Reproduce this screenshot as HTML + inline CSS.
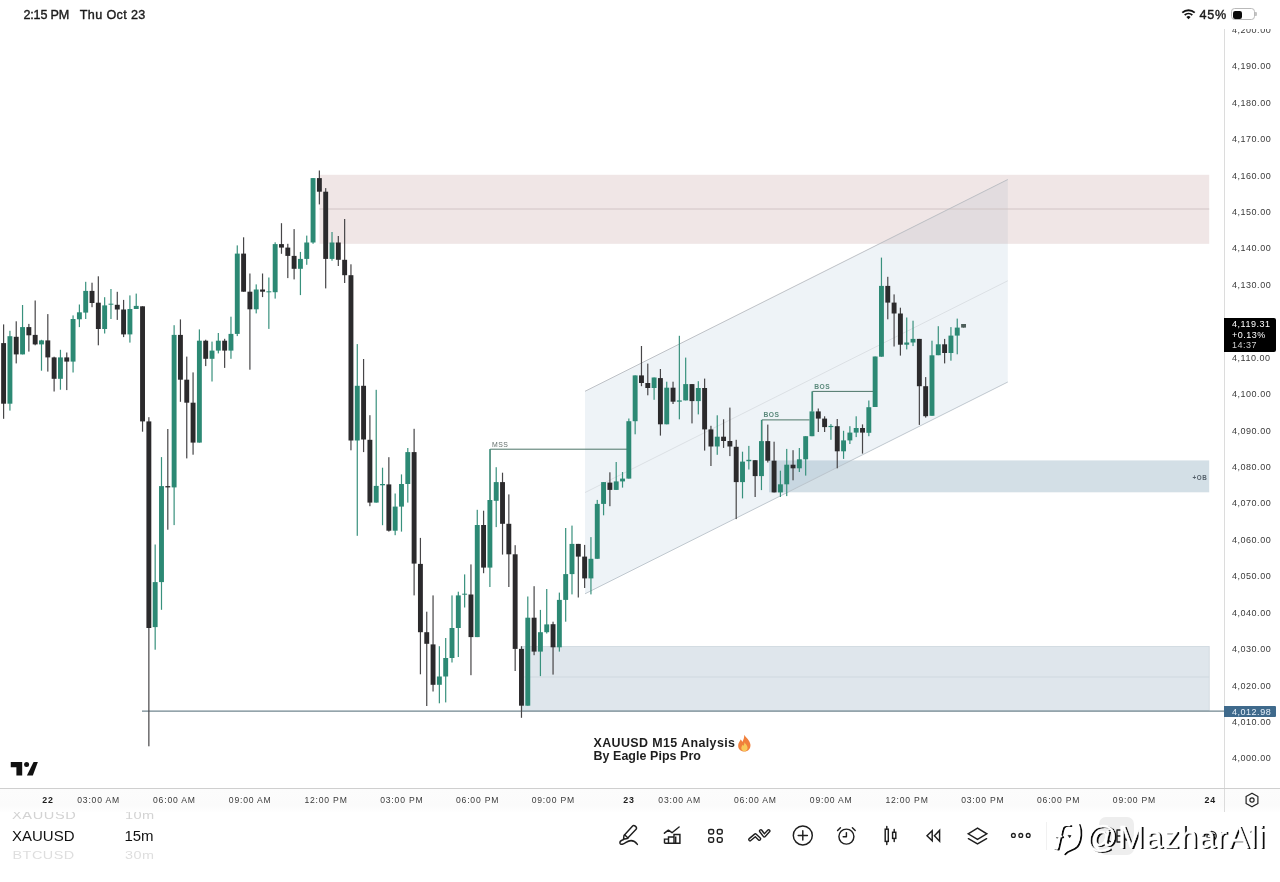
<!DOCTYPE html>
<html lang="en"><head><meta charset="utf-8"><title>XAUUSD M15 Analysis</title>
<style>
html,body{margin:0;padding:0;background:#fff;}
body{width:1280px;height:882px;position:relative;overflow:hidden;font-family:"Liberation Sans",sans-serif;color:#1a1a1a;}
#chart{position:absolute;left:0;top:0;width:1280px;height:882px;}
.abs{position:absolute;}
.pl{position:absolute;left:1232px;width:44px;height:12px;line-height:12px;font-size:9px;letter-spacing:0.52px;color:#3a3a3a;white-space:nowrap;}
.tl{position:absolute;top:794px;width:60px;height:12px;line-height:12px;text-align:center;font-size:8.6px;letter-spacing:0.8px;color:#3a3a3a;white-space:nowrap;}
.tl.b{font-weight:bold;color:#1c1c1c;letter-spacing:0.9px;font-size:8.8px;}
#status{position:absolute;left:0;top:0;width:1280px;height:28.5px;background:#fff;}
#status .t{position:absolute;top:7px;height:16px;line-height:16px;font-size:12.6px;color:#1a1a1a;-webkit-text-stroke:0.38px #1a1a1a;white-space:nowrap;}
#bottom{position:absolute;left:0;top:812px;width:1280px;height:70px;background:#fff;}
.pick{position:absolute;white-space:nowrap;}
.wm{position:absolute;left:1085.8px;top:818.5px;font-size:31px;line-height:38px;color:#fff;-webkit-text-stroke:0.5px #fff;text-shadow:2px 1px 0 rgba(0,0,0,0.95);white-space:nowrap;letter-spacing:1.05px;}
</style></head><body>
<svg id="chart" width="1280" height="882" viewBox="0 0 1280 882">
<rect x="522" y="646.5" width="687.2" height="64" fill="#dfe6ec" stroke="#cdd6de" stroke-width="0.8"/>
<line x1="522" y1="677" x2="1209.2" y2="677" stroke="#cfd8df" stroke-width="1"/>
<polygon points="585,391.3 1007.8,179.5 1007.8,382.0 585,593.8" fill="rgba(112,158,186,0.12)"/>
<rect x="319.5" y="174.8" width="889.7" height="69" fill="rgba(180,130,130,0.2)"/>
<line x1="319.5" y1="209" x2="1209.2" y2="209" stroke="#cdc1c2" stroke-width="0.9"/>
<rect x="769" y="460.4" width="440.2" height="31.9" fill="rgba(140,170,190,0.38)"/>
<line x1="585" y1="391.3" x2="1007.8" y2="179.5" stroke="#b7babf" stroke-width="0.9"/>
<line x1="585" y1="593.8" x2="1007.8" y2="382.0" stroke="#b9c2c9" stroke-width="0.9"/>
<line x1="585" y1="492.54999999999995" x2="1007.8" y2="280.75" stroke="#d9dee2" stroke-width="0.9"/>
<line x1="142" y1="711.2" x2="1224" y2="711.2" stroke="#71868f" stroke-width="1.3"/>
<path d="M490.2 500 V449.2 H629" fill="none" stroke="#4c7567" stroke-width="1"/>
<path d="M762 441 V419.9 H809.5" fill="none" stroke="#4c7567" stroke-width="1"/>
<path d="M812.6 411 V391.4 H873.5" fill="none" stroke="#4c7567" stroke-width="1"/>
<rect x="3.00" y="324.4" width="1.2" height="94.4" fill="#474648"/>
<rect x="1.15" y="343.1" width="4.9" height="60.6" fill="#2b2a2c"/>
<rect x="9.32" y="330.8" width="1.2" height="79.8" fill="#38917d"/>
<rect x="7.47" y="336.2" width="4.9" height="67.5" fill="#2c8974"/>
<rect x="15.63" y="321.3" width="1.2" height="42.1" fill="#474648"/>
<rect x="13.78" y="336.8" width="4.9" height="17.6" fill="#2b2a2c"/>
<rect x="21.95" y="305.0" width="1.2" height="49.4" fill="#38917d"/>
<rect x="20.10" y="327.1" width="4.9" height="27.3" fill="#2c8974"/>
<rect x="28.26" y="323.9" width="1.2" height="27.7" fill="#474648"/>
<rect x="26.41" y="327.1" width="4.9" height="8.2" fill="#2b2a2c"/>
<rect x="34.58" y="300.5" width="1.2" height="44.8" fill="#474648"/>
<rect x="32.73" y="334.9" width="4.9" height="9.5" fill="#2b2a2c"/>
<rect x="40.89" y="339.8" width="1.2" height="30.9" fill="#38917d"/>
<rect x="39.04" y="340.4" width="4.9" height="4.0" fill="#2c8974"/>
<rect x="47.21" y="314.1" width="1.2" height="57.5" fill="#474648"/>
<rect x="45.36" y="340.4" width="4.9" height="17.0" fill="#2b2a2c"/>
<rect x="53.52" y="356.7" width="1.2" height="34.8" fill="#474648"/>
<rect x="51.67" y="357.4" width="4.9" height="21.4" fill="#2b2a2c"/>
<rect x="59.84" y="349.8" width="1.2" height="39.9" fill="#38917d"/>
<rect x="57.99" y="357.4" width="4.9" height="21.4" fill="#2c8974"/>
<rect x="66.16" y="352.5" width="1.2" height="37.6" fill="#474648"/>
<rect x="64.30" y="357.4" width="4.9" height="4.2" fill="#2b2a2c"/>
<rect x="72.47" y="315.4" width="1.2" height="57.1" fill="#38917d"/>
<rect x="70.62" y="319.0" width="4.9" height="42.6" fill="#2c8974"/>
<rect x="78.79" y="304.5" width="1.2" height="22.6" fill="#38917d"/>
<rect x="76.94" y="312.3" width="4.9" height="7.0" fill="#2c8974"/>
<rect x="85.10" y="281.8" width="1.2" height="37.2" fill="#38917d"/>
<rect x="83.25" y="290.9" width="4.9" height="21.7" fill="#2c8974"/>
<rect x="91.42" y="282.7" width="1.2" height="24.5" fill="#474648"/>
<rect x="89.57" y="290.9" width="4.9" height="12.1" fill="#2b2a2c"/>
<rect x="97.73" y="276.3" width="1.2" height="69.0" fill="#474648"/>
<rect x="95.88" y="302.7" width="4.9" height="26.3" fill="#2b2a2c"/>
<rect x="104.05" y="297.2" width="1.2" height="36.3" fill="#38917d"/>
<rect x="102.20" y="305.4" width="4.9" height="23.6" fill="#2c8974"/>
<rect x="110.36" y="289.0" width="1.2" height="30.0" fill="#38917d"/>
<rect x="108.51" y="303.7" width="4.9" height="1.0" fill="#2c8974"/>
<rect x="116.68" y="291.8" width="1.2" height="28.1" fill="#474648"/>
<rect x="114.83" y="304.8" width="4.9" height="4.7" fill="#2b2a2c"/>
<rect x="122.99" y="299.9" width="1.2" height="37.2" fill="#474648"/>
<rect x="121.14" y="309.5" width="4.9" height="24.9" fill="#2b2a2c"/>
<rect x="129.31" y="295.4" width="1.2" height="47.2" fill="#38917d"/>
<rect x="127.46" y="309.0" width="4.9" height="25.4" fill="#2c8974"/>
<rect x="135.63" y="293.6" width="1.2" height="15.4" fill="#38917d"/>
<rect x="133.78" y="305.9" width="4.9" height="3.1" fill="#2c8974"/>
<rect x="141.94" y="306.3" width="1.2" height="125.4" fill="#474648"/>
<rect x="140.09" y="306.3" width="4.9" height="115.1" fill="#2b2a2c"/>
<rect x="148.26" y="417.2" width="1.2" height="329.1" fill="#474648"/>
<rect x="146.41" y="421.4" width="4.9" height="206.6" fill="#2b2a2c"/>
<rect x="154.57" y="544.5" width="1.2" height="105.2" fill="#38917d"/>
<rect x="152.72" y="582.1" width="4.9" height="45.0" fill="#2c8974"/>
<rect x="160.89" y="457.1" width="1.2" height="152.7" fill="#38917d"/>
<rect x="159.04" y="486.1" width="4.9" height="96.0" fill="#2c8974"/>
<rect x="167.20" y="429.0" width="1.2" height="100.7" fill="#474648"/>
<rect x="165.35" y="486.1" width="4.9" height="1.3" fill="#2b2a2c"/>
<rect x="173.52" y="325.2" width="1.2" height="199.9" fill="#38917d"/>
<rect x="171.67" y="334.9" width="4.9" height="152.5" fill="#2c8974"/>
<rect x="179.83" y="319.4" width="1.2" height="82.4" fill="#474648"/>
<rect x="177.98" y="334.9" width="4.9" height="44.8" fill="#2b2a2c"/>
<rect x="186.15" y="356.6" width="1.2" height="101.8" fill="#474648"/>
<rect x="184.30" y="379.7" width="4.9" height="23.0" fill="#2b2a2c"/>
<rect x="192.47" y="372.4" width="1.2" height="82.3" fill="#474648"/>
<rect x="190.62" y="402.7" width="4.9" height="39.9" fill="#2b2a2c"/>
<rect x="198.78" y="329.4" width="1.2" height="113.2" fill="#38917d"/>
<rect x="196.93" y="340.7" width="4.9" height="101.9" fill="#2c8974"/>
<rect x="205.10" y="339.7" width="1.2" height="26.4" fill="#474648"/>
<rect x="203.25" y="340.7" width="4.9" height="18.1" fill="#2b2a2c"/>
<rect x="211.41" y="341.6" width="1.2" height="39.9" fill="#38917d"/>
<rect x="209.56" y="350.6" width="4.9" height="8.2" fill="#2c8974"/>
<rect x="217.73" y="333.0" width="1.2" height="20.4" fill="#38917d"/>
<rect x="215.88" y="340.7" width="4.9" height="9.9" fill="#2c8974"/>
<rect x="224.04" y="338.8" width="1.2" height="29.1" fill="#474648"/>
<rect x="222.19" y="340.7" width="4.9" height="9.9" fill="#2b2a2c"/>
<rect x="230.36" y="316.7" width="1.2" height="42.1" fill="#38917d"/>
<rect x="228.51" y="333.9" width="4.9" height="16.7" fill="#2c8974"/>
<rect x="236.67" y="245.4" width="1.2" height="90.7" fill="#38917d"/>
<rect x="234.82" y="253.6" width="4.9" height="80.3" fill="#2c8974"/>
<rect x="242.99" y="237.3" width="1.2" height="54.4" fill="#474648"/>
<rect x="241.14" y="253.6" width="4.9" height="38.1" fill="#2b2a2c"/>
<rect x="249.30" y="273.5" width="1.2" height="96.2" fill="#474648"/>
<rect x="247.45" y="291.7" width="4.9" height="17.6" fill="#2b2a2c"/>
<rect x="255.62" y="284.4" width="1.2" height="29.0" fill="#38917d"/>
<rect x="253.77" y="289.5" width="4.9" height="19.8" fill="#2c8974"/>
<rect x="261.94" y="273.5" width="1.2" height="23.6" fill="#474648"/>
<rect x="260.09" y="289.5" width="4.9" height="2.2" fill="#2b2a2c"/>
<rect x="268.25" y="277.5" width="1.2" height="51.4" fill="#38917d"/>
<rect x="266.40" y="291.3" width="4.9" height="1.0" fill="#2c8974"/>
<rect x="274.57" y="242.3" width="1.2" height="56.3" fill="#38917d"/>
<rect x="272.72" y="244.1" width="4.9" height="48.1" fill="#2c8974"/>
<rect x="280.88" y="223.2" width="1.2" height="30.6" fill="#474648"/>
<rect x="279.03" y="244.1" width="4.9" height="3.5" fill="#2b2a2c"/>
<rect x="287.20" y="243.8" width="1.2" height="34.3" fill="#474648"/>
<rect x="285.35" y="247.6" width="4.9" height="8.3" fill="#2b2a2c"/>
<rect x="293.51" y="229.1" width="1.2" height="50.3" fill="#474648"/>
<rect x="291.66" y="255.9" width="4.9" height="12.9" fill="#2b2a2c"/>
<rect x="299.83" y="251.9" width="1.2" height="43.2" fill="#38917d"/>
<rect x="297.98" y="258.9" width="4.9" height="9.9" fill="#2c8974"/>
<rect x="306.14" y="235.6" width="1.2" height="29.2" fill="#38917d"/>
<rect x="304.29" y="242.5" width="4.9" height="16.4" fill="#2c8974"/>
<rect x="312.46" y="178.1" width="1.2" height="65.7" fill="#38917d"/>
<rect x="310.61" y="178.1" width="4.9" height="64.4" fill="#2c8974"/>
<rect x="318.77" y="170.5" width="1.2" height="33.9" fill="#474648"/>
<rect x="316.93" y="178.1" width="4.9" height="13.6" fill="#2b2a2c"/>
<rect x="325.09" y="188.1" width="1.2" height="100.3" fill="#474648"/>
<rect x="323.24" y="191.7" width="4.9" height="67.2" fill="#2b2a2c"/>
<rect x="331.41" y="232.0" width="1.2" height="28.7" fill="#38917d"/>
<rect x="329.56" y="242.5" width="4.9" height="16.4" fill="#2c8974"/>
<rect x="337.72" y="236.0" width="1.2" height="30.0" fill="#474648"/>
<rect x="335.87" y="242.5" width="4.9" height="17.3" fill="#2b2a2c"/>
<rect x="344.04" y="219.0" width="1.2" height="64.0" fill="#474648"/>
<rect x="342.19" y="259.8" width="4.9" height="15.4" fill="#2b2a2c"/>
<rect x="350.35" y="264.3" width="1.2" height="186.0" fill="#474648"/>
<rect x="348.50" y="275.2" width="4.9" height="165.3" fill="#2b2a2c"/>
<rect x="356.67" y="344.1" width="1.2" height="191.7" fill="#38917d"/>
<rect x="354.82" y="385.8" width="4.9" height="54.7" fill="#2c8974"/>
<rect x="362.98" y="359.0" width="1.2" height="93.1" fill="#474648"/>
<rect x="361.13" y="385.8" width="4.9" height="53.7" fill="#2b2a2c"/>
<rect x="369.30" y="415.2" width="1.2" height="91.0" fill="#474648"/>
<rect x="367.45" y="439.8" width="4.9" height="62.8" fill="#2b2a2c"/>
<rect x="375.61" y="389.8" width="1.2" height="112.8" fill="#38917d"/>
<rect x="373.76" y="485.9" width="4.9" height="16.7" fill="#2c8974"/>
<rect x="381.93" y="467.7" width="1.2" height="57.5" fill="#38917d"/>
<rect x="380.08" y="484.0" width="4.9" height="1.3" fill="#2c8974"/>
<rect x="388.25" y="457.2" width="1.2" height="74.4" fill="#474648"/>
<rect x="386.40" y="484.4" width="4.9" height="46.3" fill="#2b2a2c"/>
<rect x="394.56" y="493.5" width="1.2" height="41.7" fill="#38917d"/>
<rect x="392.71" y="506.6" width="4.9" height="24.1" fill="#2c8974"/>
<rect x="400.88" y="474.4" width="1.2" height="57.2" fill="#38917d"/>
<rect x="399.03" y="484.0" width="4.9" height="22.6" fill="#2c8974"/>
<rect x="407.19" y="448.0" width="1.2" height="54.6" fill="#38917d"/>
<rect x="405.34" y="452.1" width="4.9" height="31.9" fill="#2c8974"/>
<rect x="413.51" y="428.8" width="1.2" height="166.6" fill="#474648"/>
<rect x="411.66" y="452.1" width="4.9" height="111.5" fill="#2b2a2c"/>
<rect x="419.82" y="537.9" width="1.2" height="136.4" fill="#474648"/>
<rect x="417.97" y="563.9" width="4.9" height="68.3" fill="#2b2a2c"/>
<rect x="426.14" y="611.7" width="1.2" height="94.3" fill="#474648"/>
<rect x="424.29" y="632.2" width="4.9" height="11.6" fill="#2b2a2c"/>
<rect x="432.45" y="595.4" width="1.2" height="96.1" fill="#474648"/>
<rect x="430.60" y="644.4" width="4.9" height="40.4" fill="#2b2a2c"/>
<rect x="438.77" y="646.2" width="1.2" height="57.1" fill="#38917d"/>
<rect x="436.92" y="676.5" width="4.9" height="8.3" fill="#2c8974"/>
<rect x="445.09" y="638.0" width="1.2" height="64.4" fill="#38917d"/>
<rect x="443.24" y="658.0" width="4.9" height="18.5" fill="#2c8974"/>
<rect x="451.40" y="595.4" width="1.2" height="67.1" fill="#38917d"/>
<rect x="449.55" y="628.0" width="4.9" height="30.0" fill="#2c8974"/>
<rect x="457.72" y="591.7" width="1.2" height="65.3" fill="#38917d"/>
<rect x="455.87" y="595.4" width="4.9" height="32.6" fill="#2c8974"/>
<rect x="464.03" y="574.4" width="1.2" height="33.1" fill="#38917d"/>
<rect x="462.18" y="593.7" width="4.9" height="1.0" fill="#2c8974"/>
<rect x="470.35" y="564.4" width="1.2" height="110.8" fill="#474648"/>
<rect x="468.50" y="594.5" width="4.9" height="42.6" fill="#2b2a2c"/>
<rect x="476.66" y="509.8" width="1.2" height="127.3" fill="#38917d"/>
<rect x="474.81" y="525.0" width="4.9" height="112.1" fill="#2c8974"/>
<rect x="482.98" y="510.7" width="1.2" height="62.5" fill="#474648"/>
<rect x="481.13" y="525.0" width="4.9" height="42.6" fill="#2b2a2c"/>
<rect x="489.29" y="449.1" width="1.2" height="137.9" fill="#38917d"/>
<rect x="487.44" y="500.0" width="4.9" height="67.6" fill="#2c8974"/>
<rect x="495.61" y="467.2" width="1.2" height="59.9" fill="#38917d"/>
<rect x="493.76" y="482.1" width="4.9" height="18.7" fill="#2c8974"/>
<rect x="501.92" y="472.7" width="1.2" height="81.9" fill="#474648"/>
<rect x="500.07" y="482.1" width="4.9" height="41.7" fill="#2b2a2c"/>
<rect x="508.24" y="494.4" width="1.2" height="92.6" fill="#474648"/>
<rect x="506.39" y="523.8" width="4.9" height="30.5" fill="#2b2a2c"/>
<rect x="514.56" y="545.2" width="1.2" height="125.8" fill="#474648"/>
<rect x="512.71" y="554.3" width="4.9" height="94.6" fill="#2b2a2c"/>
<rect x="520.87" y="646.2" width="1.2" height="71.6" fill="#474648"/>
<rect x="519.02" y="648.9" width="4.9" height="56.8" fill="#2b2a2c"/>
<rect x="527.19" y="596.5" width="1.2" height="109.2" fill="#38917d"/>
<rect x="525.34" y="617.7" width="4.9" height="88.0" fill="#2c8974"/>
<rect x="533.50" y="586.2" width="1.2" height="69.0" fill="#474648"/>
<rect x="531.65" y="617.7" width="4.9" height="33.9" fill="#2b2a2c"/>
<rect x="539.82" y="609.9" width="1.2" height="66.2" fill="#38917d"/>
<rect x="537.97" y="632.2" width="4.9" height="19.4" fill="#2c8974"/>
<rect x="546.13" y="589.0" width="1.2" height="44.5" fill="#38917d"/>
<rect x="544.28" y="624.4" width="4.9" height="7.8" fill="#2c8974"/>
<rect x="552.45" y="621.7" width="1.2" height="52.9" fill="#474648"/>
<rect x="550.60" y="624.2" width="4.9" height="23.1" fill="#2b2a2c"/>
<rect x="558.76" y="592.6" width="1.2" height="59.0" fill="#38917d"/>
<rect x="556.91" y="599.9" width="4.9" height="47.4" fill="#2c8974"/>
<rect x="565.08" y="528.0" width="1.2" height="93.7" fill="#38917d"/>
<rect x="563.23" y="574.1" width="4.9" height="25.8" fill="#2c8974"/>
<rect x="571.39" y="525.6" width="1.2" height="68.8" fill="#38917d"/>
<rect x="569.54" y="543.9" width="4.9" height="30.2" fill="#2c8974"/>
<rect x="577.71" y="543.9" width="1.2" height="53.6" fill="#474648"/>
<rect x="575.86" y="543.9" width="4.9" height="12.7" fill="#2b2a2c"/>
<rect x="584.03" y="544.9" width="1.2" height="43.1" fill="#474648"/>
<rect x="582.18" y="556.6" width="4.9" height="21.8" fill="#2b2a2c"/>
<rect x="590.34" y="537.1" width="1.2" height="57.3" fill="#38917d"/>
<rect x="588.49" y="558.8" width="4.9" height="19.6" fill="#2c8974"/>
<rect x="596.66" y="499.9" width="1.2" height="58.9" fill="#38917d"/>
<rect x="594.81" y="503.9" width="4.9" height="54.9" fill="#2c8974"/>
<rect x="602.97" y="482.1" width="1.2" height="33.2" fill="#38917d"/>
<rect x="601.12" y="482.1" width="4.9" height="21.8" fill="#2c8974"/>
<rect x="609.29" y="472.3" width="1.2" height="33.9" fill="#474648"/>
<rect x="607.44" y="482.6" width="4.9" height="7.3" fill="#2b2a2c"/>
<rect x="615.60" y="462.0" width="1.2" height="27.9" fill="#38917d"/>
<rect x="613.75" y="481.4" width="4.9" height="8.5" fill="#2c8974"/>
<rect x="621.92" y="472.0" width="1.2" height="15.6" fill="#38917d"/>
<rect x="620.07" y="478.6" width="4.9" height="2.8" fill="#2c8974"/>
<rect x="628.23" y="418.5" width="1.2" height="60.1" fill="#38917d"/>
<rect x="626.38" y="421.2" width="4.9" height="57.4" fill="#2c8974"/>
<rect x="634.55" y="375.4" width="1.2" height="58.9" fill="#38917d"/>
<rect x="632.70" y="375.4" width="4.9" height="45.8" fill="#2c8974"/>
<rect x="640.87" y="346.0" width="1.2" height="40.2" fill="#474648"/>
<rect x="639.02" y="375.4" width="4.9" height="7.6" fill="#2b2a2c"/>
<rect x="647.18" y="363.6" width="1.2" height="31.7" fill="#474648"/>
<rect x="645.33" y="383.0" width="4.9" height="5.0" fill="#2b2a2c"/>
<rect x="653.50" y="377.5" width="1.2" height="22.3" fill="#38917d"/>
<rect x="651.65" y="377.5" width="4.9" height="10.5" fill="#2c8974"/>
<rect x="659.81" y="369.0" width="1.2" height="66.6" fill="#474648"/>
<rect x="657.96" y="378.1" width="4.9" height="46.2" fill="#2b2a2c"/>
<rect x="666.13" y="381.7" width="1.2" height="42.6" fill="#38917d"/>
<rect x="664.28" y="387.7" width="4.9" height="36.6" fill="#2c8974"/>
<rect x="672.44" y="381.7" width="1.2" height="22.3" fill="#474648"/>
<rect x="670.59" y="387.7" width="4.9" height="14.0" fill="#2b2a2c"/>
<rect x="678.76" y="335.8" width="1.2" height="83.5" fill="#38917d"/>
<rect x="676.91" y="400.4" width="4.9" height="1.3" fill="#2c8974"/>
<rect x="685.07" y="357.6" width="1.2" height="42.8" fill="#38917d"/>
<rect x="683.22" y="384.1" width="4.9" height="16.3" fill="#2c8974"/>
<rect x="691.39" y="384.1" width="1.2" height="39.3" fill="#474648"/>
<rect x="689.54" y="384.1" width="4.9" height="17.0" fill="#2b2a2c"/>
<rect x="697.71" y="381.2" width="1.2" height="33.2" fill="#38917d"/>
<rect x="695.86" y="388.0" width="4.9" height="13.1" fill="#2c8974"/>
<rect x="704.02" y="378.6" width="1.2" height="72.0" fill="#474648"/>
<rect x="702.17" y="388.0" width="4.9" height="41.4" fill="#2b2a2c"/>
<rect x="710.34" y="425.8" width="1.2" height="40.2" fill="#474648"/>
<rect x="708.49" y="429.4" width="4.9" height="17.1" fill="#2b2a2c"/>
<rect x="716.65" y="415.3" width="1.2" height="39.5" fill="#38917d"/>
<rect x="714.80" y="436.7" width="4.9" height="9.8" fill="#2c8974"/>
<rect x="722.97" y="419.3" width="1.2" height="28.6" fill="#474648"/>
<rect x="721.12" y="436.7" width="4.9" height="4.3" fill="#2b2a2c"/>
<rect x="729.28" y="407.6" width="1.2" height="48.5" fill="#474648"/>
<rect x="727.43" y="441.0" width="4.9" height="5.5" fill="#2b2a2c"/>
<rect x="735.60" y="439.8" width="1.2" height="79.3" fill="#474648"/>
<rect x="733.75" y="446.8" width="4.9" height="35.3" fill="#2b2a2c"/>
<rect x="741.91" y="451.7" width="1.2" height="46.7" fill="#38917d"/>
<rect x="740.06" y="461.6" width="4.9" height="20.5" fill="#2c8974"/>
<rect x="748.23" y="445.9" width="1.2" height="23.6" fill="#38917d"/>
<rect x="746.38" y="459.8" width="4.9" height="1.4" fill="#2c8974"/>
<rect x="754.54" y="460.2" width="1.2" height="36.8" fill="#474648"/>
<rect x="752.69" y="460.2" width="4.9" height="15.9" fill="#2b2a2c"/>
<rect x="760.86" y="419.9" width="1.2" height="70.2" fill="#38917d"/>
<rect x="759.01" y="441.1" width="4.9" height="35.0" fill="#2c8974"/>
<rect x="767.18" y="424.6" width="1.2" height="37.9" fill="#474648"/>
<rect x="765.33" y="441.1" width="4.9" height="19.6" fill="#2b2a2c"/>
<rect x="773.49" y="441.7" width="1.2" height="50.7" fill="#474648"/>
<rect x="771.64" y="460.7" width="4.9" height="31.7" fill="#2b2a2c"/>
<rect x="779.81" y="470.7" width="1.2" height="26.3" fill="#38917d"/>
<rect x="777.96" y="484.3" width="4.9" height="8.1" fill="#2c8974"/>
<rect x="786.12" y="448.9" width="1.2" height="47.2" fill="#38917d"/>
<rect x="784.27" y="464.7" width="4.9" height="19.6" fill="#2c8974"/>
<rect x="792.44" y="450.2" width="1.2" height="30.1" fill="#474648"/>
<rect x="790.59" y="464.7" width="4.9" height="3.6" fill="#2b2a2c"/>
<rect x="798.75" y="448.0" width="1.2" height="24.0" fill="#38917d"/>
<rect x="796.90" y="459.3" width="4.9" height="9.0" fill="#2c8974"/>
<rect x="805.07" y="436.2" width="1.2" height="39.4" fill="#38917d"/>
<rect x="803.22" y="436.2" width="4.9" height="23.1" fill="#2c8974"/>
<rect x="811.38" y="391.4" width="1.2" height="44.8" fill="#38917d"/>
<rect x="809.53" y="411.4" width="4.9" height="24.8" fill="#2c8974"/>
<rect x="817.70" y="408.5" width="1.2" height="23.5" fill="#474648"/>
<rect x="815.85" y="411.4" width="4.9" height="7.2" fill="#2b2a2c"/>
<rect x="824.01" y="416.3" width="1.2" height="15.7" fill="#474648"/>
<rect x="822.16" y="418.6" width="4.9" height="8.5" fill="#2b2a2c"/>
<rect x="830.33" y="424.1" width="1.2" height="15.7" fill="#38917d"/>
<rect x="828.48" y="425.9" width="4.9" height="1.2" fill="#2c8974"/>
<rect x="836.65" y="419.0" width="1.2" height="49.3" fill="#474648"/>
<rect x="834.80" y="426.2" width="4.9" height="25.1" fill="#2b2a2c"/>
<rect x="842.96" y="430.8" width="1.2" height="28.1" fill="#38917d"/>
<rect x="841.11" y="440.4" width="4.9" height="10.9" fill="#2c8974"/>
<rect x="849.28" y="426.2" width="1.2" height="17.8" fill="#38917d"/>
<rect x="847.43" y="432.6" width="4.9" height="7.8" fill="#2c8974"/>
<rect x="855.59" y="416.3" width="1.2" height="20.8" fill="#38917d"/>
<rect x="853.74" y="428.0" width="4.9" height="4.6" fill="#2c8974"/>
<rect x="861.91" y="424.4" width="1.2" height="29.2" fill="#474648"/>
<rect x="860.06" y="428.0" width="4.9" height="4.6" fill="#2b2a2c"/>
<rect x="868.22" y="400.5" width="1.2" height="35.7" fill="#38917d"/>
<rect x="866.37" y="407.2" width="4.9" height="25.6" fill="#2c8974"/>
<rect x="874.54" y="356.5" width="1.2" height="50.5" fill="#38917d"/>
<rect x="872.69" y="356.5" width="4.9" height="50.5" fill="#2c8974"/>
<rect x="880.85" y="257.6" width="1.2" height="99.1" fill="#38917d"/>
<rect x="879.00" y="285.9" width="4.9" height="70.8" fill="#2c8974"/>
<rect x="887.17" y="276.8" width="1.2" height="42.5" fill="#474648"/>
<rect x="885.32" y="285.9" width="4.9" height="16.7" fill="#2b2a2c"/>
<rect x="893.49" y="294.4" width="1.2" height="52.1" fill="#474648"/>
<rect x="891.64" y="302.6" width="4.9" height="10.9" fill="#2b2a2c"/>
<rect x="899.80" y="307.7" width="1.2" height="47.9" fill="#474648"/>
<rect x="897.95" y="313.5" width="4.9" height="31.2" fill="#2b2a2c"/>
<rect x="906.12" y="317.5" width="1.2" height="31.9" fill="#38917d"/>
<rect x="904.27" y="342.5" width="4.9" height="2.2" fill="#2c8974"/>
<rect x="912.43" y="320.7" width="1.2" height="25.4" fill="#38917d"/>
<rect x="910.58" y="338.9" width="4.9" height="3.6" fill="#2c8974"/>
<rect x="918.75" y="338.9" width="1.2" height="86.0" fill="#474648"/>
<rect x="916.90" y="338.9" width="4.9" height="47.3" fill="#2b2a2c"/>
<rect x="925.06" y="377.1" width="1.2" height="40.5" fill="#474648"/>
<rect x="923.21" y="386.2" width="4.9" height="30.0" fill="#2b2a2c"/>
<rect x="931.38" y="340.7" width="1.2" height="75.1" fill="#38917d"/>
<rect x="929.53" y="355.3" width="4.9" height="60.5" fill="#2c8974"/>
<rect x="937.69" y="326.2" width="1.2" height="29.0" fill="#38917d"/>
<rect x="935.84" y="344.3" width="4.9" height="10.9" fill="#2c8974"/>
<rect x="944.01" y="338.9" width="1.2" height="24.5" fill="#474648"/>
<rect x="942.16" y="344.3" width="4.9" height="8.7" fill="#2b2a2c"/>
<rect x="950.33" y="327.1" width="1.2" height="33.6" fill="#38917d"/>
<rect x="948.48" y="335.6" width="4.9" height="17.4" fill="#2c8974"/>
<rect x="956.64" y="318.6" width="1.2" height="35.7" fill="#38917d"/>
<rect x="954.79" y="327.6" width="4.9" height="8.0" fill="#2c8974"/>
<rect x="962.96" y="324.0" width="1.2" height="3.6" fill="#4d5e5a"/>
<rect x="961.11" y="324.0" width="4.9" height="3.6" fill="#4d5e5a"/>
<text x="492" y="447" font-family="Liberation Sans, sans-serif" font-size="6.9" fill="#636e6b" letter-spacing="0.45">MSS</text>
<text x="763.4" y="417" font-family="Liberation Sans, sans-serif" font-size="6.7" font-weight="bold" fill="#5a897b" letter-spacing="0.55">BOS</text>
<text x="814.2" y="388.9" font-family="Liberation Sans, sans-serif" font-size="6.7" font-weight="bold" fill="#5a897b" letter-spacing="0.55">BOS</text>
<text x="1207.2" y="479.8" font-family="Liberation Sans, sans-serif" font-size="6.3" font-weight="bold" fill="#55606a" text-anchor="end" letter-spacing="0.5">+OB</text>
</svg>

<!-- annotation -->
<div class="abs" style="left:593.5px;top:737.3px;font-size:12.45px;line-height:12.3px;font-weight:bold;color:#1e1e1e;white-space:nowrap;letter-spacing:0.06px"><span style="letter-spacing:0.4px">XAUUSD M15 Analysis</span><br>By Eagle Pips Pro</div>
<svg class="abs" style="left:736px;top:733.5px" width="17" height="19" viewBox="0 0 17 19">
<path d="M8.2 0.8 C9.6 3.4 13.6 6 14.4 10.2 C15 14.6 12 17.6 8.4 17.6 C4.6 17.6 1.8 14.8 2.2 11 C2.5 8.6 4 7.2 4.6 5.6 C5.6 6.4 6 7.2 6.2 8 C7.4 6 8.4 3.6 8.2 0.8 Z" fill="#f0803c"/>
<path d="M8.4 8.2 C9.4 10 11.6 11.4 11.6 13.8 C11.6 15.8 10.2 17.2 8.4 17.2 C6.6 17.2 5.2 15.8 5.3 13.9 C5.4 12.6 6.2 11.8 6.6 10.8 C7.2 11.2 7.4 11.6 7.5 12 C8 11 8.5 9.8 8.4 8.2 Z" fill="#f8c85a"/>
</svg>

<!-- TV logo -->
<svg class="abs" style="left:0;top:750px" width="60" height="36" viewBox="0 0 60 36">
<path d="M10.75 11.9 H22.2 V25.6 H16.4 V17.3 H10.75 Z" fill="#111"/>
<circle cx="26.6" cy="14.5" r="2.5" fill="#111"/>
<path d="M33.6 11.9 H37.9 L32.8 25.6 H26.9 Z" fill="#111"/>
</svg>

<!-- axes -->
<div class="abs" style="left:0;top:788px;width:1280px;height:25px;background:linear-gradient(#fcfcfc 0,#fbfbfb 70%,#fff 100%)"></div>
<div class="abs" style="left:1223.5px;top:26px;width:1px;height:787px;background:#dcdcdc"></div>
<div class="abs" style="left:0;top:787.7px;width:1280px;height:1px;background:#cfcfcf"></div>
<div class="pl" style="top:752.3px">4,000.00</div>
<div class="pl" style="top:715.9px">4,010.00</div>
<div class="pl" style="top:679.5px">4,020.00</div>
<div class="pl" style="top:643.0px">4,030.00</div>
<div class="pl" style="top:606.6px">4,040.00</div>
<div class="pl" style="top:570.2px">4,050.00</div>
<div class="pl" style="top:533.8px">4,060.00</div>
<div class="pl" style="top:497.4px">4,070.00</div>
<div class="pl" style="top:460.9px">4,080.00</div>
<div class="pl" style="top:424.5px">4,090.00</div>
<div class="pl" style="top:388.1px">4,100.00</div>
<div class="pl" style="top:351.7px">4,110.00</div>
<div class="pl" style="top:315.3px">4,120.00</div>
<div class="pl" style="top:278.8px">4,130.00</div>
<div class="pl" style="top:242.4px">4,140.00</div>
<div class="pl" style="top:206.0px">4,150.00</div>
<div class="pl" style="top:169.6px">4,160.00</div>
<div class="pl" style="top:133.2px">4,170.00</div>
<div class="pl" style="top:96.7px">4,180.00</div>
<div class="pl" style="top:60.3px">4,190.00</div>
<div class="pl" style="top:23.9px">4,200.00</div>
<div class="tl b" style="left:18.1px">22</div>
<div class="tl" style="left:68.6px">03:00 AM</div>
<div class="tl" style="left:144.4px">06:00 AM</div>
<div class="tl" style="left:220.2px">09:00 AM</div>
<div class="tl" style="left:296.0px">12:00 PM</div>
<div class="tl" style="left:371.8px">03:00 PM</div>
<div class="tl" style="left:447.6px">06:00 PM</div>
<div class="tl" style="left:523.3px">09:00 PM</div>
<div class="tl b" style="left:599.1px">23</div>
<div class="tl" style="left:649.7px">03:00 AM</div>
<div class="tl" style="left:725.4px">06:00 AM</div>
<div class="tl" style="left:801.2px">09:00 AM</div>
<div class="tl" style="left:877.0px">12:00 PM</div>
<div class="tl" style="left:952.8px">03:00 PM</div>
<div class="tl" style="left:1028.6px">06:00 PM</div>
<div class="tl" style="left:1104.4px">09:00 PM</div>
<div class="tl b" style="left:1180.2px">24</div>

<!-- price labels boxes -->
<div class="abs" style="left:1224px;top:706px;width:51.5px;height:11.4px;background:#3f6a8c;border-radius:0 1px 1px 0"></div>
<div class="pl" style="top:705.7px;color:#e6f0fa;">4,012.98</div>
<div class="abs" style="left:1224px;top:318px;width:51.5px;height:33.8px;background:#000;border-radius:0 2px 2px 0"></div>
<div class="pl" style="top:317.8px;color:#fff;">4,119.31</div>
<div class="pl" style="top:328.5px;color:#fff;">+0.13%</div>
<div class="pl" style="top:339px;color:#cfcfcf;">14:37</div>

<!-- gear -->
<svg class="abs" style="left:1243px;top:791px" width="18" height="18" viewBox="0 0 18 18">
<polygon points="9,2.2 14.9,5.6 14.9,12.4 9,15.8 3.1,12.4 3.1,5.6" fill="none" stroke="#222" stroke-width="1.2" stroke-linejoin="round"/>
<circle cx="9" cy="9" r="2.1" fill="none" stroke="#222" stroke-width="1.2"/>
</svg>

<!-- status bar -->
<div id="status">
<div class="t" style="left:23.4px;letter-spacing:-0.16px">2:15 PM</div>
<div class="t" style="left:79.8px;letter-spacing:0.36px">Thu Oct 23</div>
<svg class="abs" style="left:1180px;top:7px" width="18" height="14" viewBox="0 0 18 14">
<path d="M2.3 5.6 A9.2 9.2 0 0 1 14.7 5.6" fill="none" stroke="#111" stroke-width="1.9" stroke-linecap="butt"/>
<path d="M4.7 8.1 A5.6 5.6 0 0 1 12.3 8.1" fill="none" stroke="#111" stroke-width="1.9"/>
<path d="M8.5 12.2 L6.4 10 A3 3 0 0 1 10.6 10 Z" fill="#111"/>
</svg>
<div class="t" style="left:1199.4px;letter-spacing:0.75px">45%</div>
<div class="abs" style="left:1231.4px;top:8.2px;width:21.4px;height:10.2px;border:1px solid #b9b9b9;border-radius:3.6px"></div>
<div class="abs" style="left:1233.2px;top:10.5px;width:8.6px;height:8.2px;background:#0a0a0a;border-radius:2.2px"></div>
<div class="abs" style="left:1255.4px;top:12.2px;width:1.3px;height:4.2px;background:#c4c4c4;border-radius:0 1px 1px 0"></div>
</div>

<!-- bottom toolbar -->
<div id="bottom"></div>
<div class="abs" style="left:0;top:812.4px;width:300px;height:12px;overflow:hidden"><div class="pick" style="left:12px;top:-6.6px;font-size:14.6px;line-height:18px;color:#d3d3d3;transform:scaleY(0.72);transform-origin:0 50%;filter:blur(0.35px);letter-spacing:0.6px">XAUUSD</div>
<div class="pick" style="left:125px;top:-6.6px;font-size:14.6px;line-height:18px;color:#d3d3d3;transform:scaleY(0.72);transform-origin:0 50%;filter:blur(0.35px);letter-spacing:0.4px">10m</div></div>
<div class="pick" style="left:12px;top:826.5px;font-size:15px;line-height:18px;color:#111;">XAUUSD</div>
<div class="pick" style="left:124.4px;top:826.5px;font-size:15px;line-height:18px;color:#111;">15m</div>
<div class="pick" style="left:12.5px;top:846px;font-size:14.4px;line-height:18px;color:#dedede;transform:scaleY(0.74);transform-origin:0 50%;filter:blur(0.35px);letter-spacing:0.5px">BTCUSD</div>
<div class="pick" style="left:125px;top:846px;font-size:14.4px;line-height:18px;color:#dedede;transform:scaleY(0.74);transform-origin:0 50%;filter:blur(0.35px);letter-spacing:0.5px">30m</div>

<svg class="abs" style="left:600px;top:812px" width="460" height="50" viewBox="600 812 460 50" fill="none" stroke="#1f1f1f" stroke-width="1.45" stroke-linecap="round" stroke-linejoin="round">
<!-- pen -->
<path d="M623.5 839.3 L624 835.4 L632.6 826 A1.6 1.6 0 0 1 634.9 825.9 L636 826.9 A1.6 1.6 0 0 1 636.1 829.2 L627.3 838.5 Z"/>
<path d="M624.6 834.8 L628 838"/>
<path d="M623.3 839.7 C621.4 840.3 619.5 841.7 620 843.3 C620.7 845.2 623.4 844.2 626 842.4 C629.6 840 633.6 839.4 637.4 844.4"/>
<!-- chart -->
<path d="M664.4 833.2 L668.4 830.2 L672 832.7 L679.1 827"/>
<path d="M664.5 843.3 V839.1 H668.5 V843.3 M668.5 839.1 V836.9 H674 V843.3 M674 836.9 V834.5 H679.9 V843.3 H664.5 M675.7 843 V836.6" stroke-linecap="butt" stroke-linejoin="miter"/>
<!-- grid -->
<rect x="708.7" y="829.4" width="4.9" height="4.6" rx="1.4"/>
<rect x="717.3" y="829.4" width="4.9" height="4.6" rx="1.4"/>
<rect x="708.7" y="837.6" width="4.9" height="4.6" rx="1.4"/>
<rect x="717.3" y="837.6" width="4.9" height="4.6" rx="1.4"/>
<!-- wave -->
<path d="M750 839.6 L755.4 835.1 L759.4 839" stroke-width="3.9"/>
<path d="M760.8 831 L764.3 835.7 L768.6 831" stroke-width="3.9"/>
<path d="M750 839.6 L755.4 835.1 L759.4 839" stroke="#fff" stroke-width="1.1"/>
<path d="M760.8 831 L764.3 835.7 L768.6 831" stroke="#fff" stroke-width="1.1"/>
<!-- plus -->
<circle cx="802.8" cy="835.4" r="9.5"/>
<path d="M798.2 835.4 H807.4 M802.8 830.8 V840"/>
<!-- alarm -->
<circle cx="846.4" cy="836.6" r="7.5"/>
<path d="M846.4 832.6 V836.8 H843.2"/>
<path d="M837.6 830.6 L840.4 827.8 M852.4 827.8 L855.2 830.6"/>
<!-- candles -->
<rect x="885.2" y="829.2" width="3.1" height="12.2" stroke-linejoin="miter"/>
<path d="M886.8 826.4 V829 M886.8 841.6 V844.4"/>
<rect x="892.6" y="832.3" width="3.2" height="6.1" stroke-linejoin="miter"/>
<path d="M894.2 829.4 V832 M894.2 838.6 V841.4"/>
<!-- rewind -->
<path d="M927 835.8 L932.2 830.8 V840.8 Z" stroke-linejoin="miter"/>
<path d="M934.4 835.8 L939.6 830.4 V841.2 Z" stroke-linejoin="miter"/>
<!-- layers -->
<path d="M968.2 833.8 L977.5 828.2 L986.8 833.8 L977.5 839.3 Z" stroke-linejoin="miter"/>
<path d="M968.4 838.7 L977.5 844 L986.6 838.7" stroke-linejoin="miter"/>
<!-- dots -->
<circle cx="1013.4" cy="835.4" r="1.9" stroke-width="1.3"/>
<circle cx="1020.8" cy="835.4" r="1.9" stroke-width="1.3"/>
<circle cx="1028.2" cy="835.4" r="1.9" stroke-width="1.3"/>
</svg>

<!-- grey button under watermark -->
<div class="abs" style="left:1046px;top:822px;width:1px;height:28px;background:#f1f1f1"></div>
<div class="abs" style="left:1099px;top:817px;width:35px;height:38px;background:#eeeeee;border-radius:7px"></div>
<svg class="abs" style="left:1100px;top:820px" width="180" height="34" viewBox="1100 820 180 34" fill="none" stroke="#222" stroke-width="1.4" stroke-linecap="round">
<path d="M1113.5 829.4 A6.6 6.6 0 1 0 1113.5 842.6"/>
<path d="M1117 830 V842 M1117 830 H1120.5 A2.8 2.8 0 0 1 1120.5 836 H1117 M1120.5 836 A3 3 0 0 1 1120.5 842 H1117"/>
<circle cx="1126.4" cy="833" r="0.7"/><circle cx="1126.4" cy="839.4" r="0.7"/>
<circle cx="1211.6" cy="836" r="4.6"/><path d="M1208.6 834.6 H1214.6 M1208.6 837.6 H1214.6"/>
<path d="M1251 832 L1253.4 830.4 V841"/>
</svg>

<!-- watermark -->
<svg class="abs" style="left:1052px;top:820px;overflow:visible" width="36" height="38" viewBox="0 0 36 38">
<g fill="none" stroke="#0a0a0a" stroke-width="1.9" stroke-linecap="round" stroke-linejoin="round">
<path d="M19.4 6.1 C15.4 5.2 12 6 11.3 10 L6.8 29.6 L3.4 28.8"/>
<path d="M4.9 17.3 L11.2 17.3"/>
<path d="M27.8 5.1 C30.2 10.2 30 20.8 25.6 26.6 C22.2 30.4 16.4 29.8 13.3 34.2"/>
<path d="M16.4 15.4 L19 15.6 L17.8 17.4 Z" fill="#0a0a0a" stroke-width="0.6"/>
</g>
<g fill="none" stroke="#fff" stroke-width="2.3" stroke-linecap="round" stroke-linejoin="round" transform="translate(-1.9,-1)">
<path d="M19.4 6.1 C15.4 5.2 12 6 11.3 10 L6.8 29.6 L3.4 28.8"/>
<path d="M4.9 17.3 L11.2 17.3"/>
<path d="M27.8 5.1 C30.2 10.2 30 20.8 25.6 26.6 C22.2 30.4 16.4 29.8 13.3 34.2"/>
</g>
</svg>
<div class="wm">@MazharAli</div>
</body></html>
